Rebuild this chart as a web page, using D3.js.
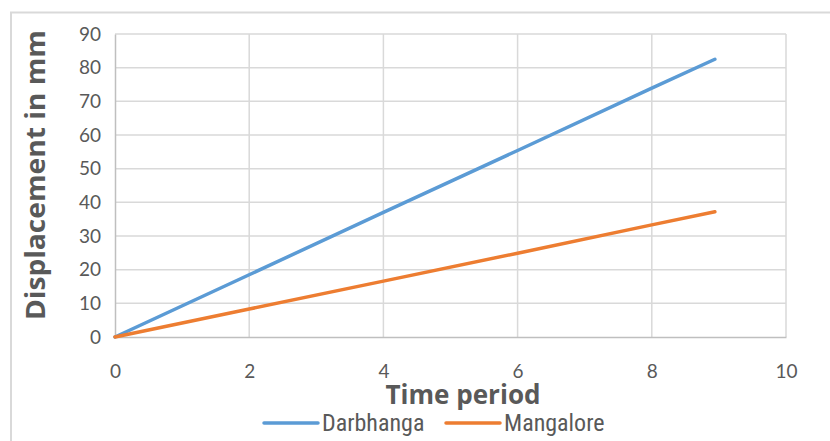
<!DOCTYPE html>
<html><head><meta charset="utf-8">
<script src="https://cdn.jsdelivr.net/npm/d3@7"></script>
<style>body{margin:0;background:#fff;}</style>
</head><body>
<svg id="c" width="830" height="441"></svg>
<script>
const timePoints = [0, 2, 4, 6, 8, 8.94];
const darbhanga = [0, 18.5, 37.0, 55.4, 73.9, 82.5];
const mangalore = [0, 8.3, 16.6, 24.9, 33.3, 37.2];
const seriesNames = ["Darbhanga", "Mangalore"];
const seriesColors = ["#5b9bd5", "#ed7d31"];
const xTicks = [0, 2, 4, 6, 8, 10];
const yTicks = [0, 10, 20, 30, 40, 50, 60, 70, 80, 90];
const xTitle = "Time period";
const yTitle = "Displacement in mm";

(function () {
const svg = d3.select("#c");
const pL = 115, pR = 786, pT = 34, pB = 337;
const x = d3.scaleLinear().domain([0, 10]).range([pL, pR]);
const y = d3.scaleLinear().domain([0, 90]).range([pB, pT]);

// outer border
svg.append("rect").attr("x", 11).attr("y", 12.5).attr("width", 830).attr("height", 440)
  .attr("fill", "none").attr("stroke", "#d9d9d9").attr("stroke-width", 2);

const tickFont = "Lato, 'Open Sans', sans-serif";
// gridlines
svg.append("g").selectAll("line").data(yTicks.filter(d => d > 0)).join("line")
  .attr("x1", pL).attr("x2", pR).attr("y1", d => y(d)).attr("y2", d => y(d))
  .attr("stroke", "#d9d9d9").attr("stroke-width", 1.5);
svg.append("g").selectAll("line").data(xTicks.filter(d => d > 0)).join("line")
  .attr("y1", pT).attr("y2", pB).attr("x1", d => x(d)).attr("x2", d => x(d))
  .attr("stroke", "#d9d9d9").attr("stroke-width", 1.5);

// axes
const xAxis = svg.append("g").attr("transform", `translate(0,${pB})`)
  .call(d3.axisBottom(x).tickValues(xTicks).tickSize(0).tickPadding(28).tickFormat(d3.format("d")));
const yAxis = svg.append("g").attr("transform", `translate(${pL},0)`)
  .call(d3.axisLeft(y).tickValues(yTicks).tickSize(0).tickPadding(14).tickFormat(d3.format("d")));
[xAxis, yAxis].forEach(a => {
  a.select(".domain").attr("stroke", "#bfbfbf").attr("stroke-width", 1.5);
  a.selectAll("text").attr("fill", "#595959").attr("font-size", 19).attr("font-family", tickFont);
});

// lines
const line = d3.line().x((d, i) => x(timePoints[i])).y(d => y(d));
[darbhanga, mangalore].forEach((s, i) => {
  svg.append("path").datum(s).attr("d", line).attr("fill", "none")
    .attr("stroke", seriesColors[i]).attr("stroke-width", 3.5).attr("stroke-linecap", "round");
});

// titles
const titleFont = "'Open Sans', Lato, sans-serif";
svg.append("text").attr("x", 463).attr("y", 404).attr("text-anchor", "middle")
  .attr("font-family", titleFont).attr("font-weight", "bold").attr("font-size", 26)
  .attr("fill", "#595959").attr("textLength", 155).attr("lengthAdjust", "spacingAndGlyphs").text(xTitle);
svg.append("text").attr("transform", "translate(45,175) rotate(-90)").attr("text-anchor", "middle")
  .attr("font-family", titleFont).attr("font-weight", "bold").attr("font-size", 26)
  .attr("fill", "#595959").attr("textLength", 290).attr("lengthAdjust", "spacingAndGlyphs").text(yTitle);

// legend
const legendX = [264, 446];
seriesNames.forEach((n, i) => {
  const g = svg.append("g");
  g.append("line").attr("x1", legendX[i]).attr("x2", legendX[i] + 54).attr("y1", 423).attr("y2", 423)
    .attr("stroke", seriesColors[i]).attr("stroke-width", 3.5).attr("stroke-linecap", "round");
  g.append("text").attr("x", legendX[i] + 58).attr("y", 431).attr("font-family", "'Liberation Sans Narrow', 'Roboto Condensed', sans-serif")
    .attr("font-size", 24).attr("fill", "#595959").text(n);
});
})();
</script>
</body></html>
